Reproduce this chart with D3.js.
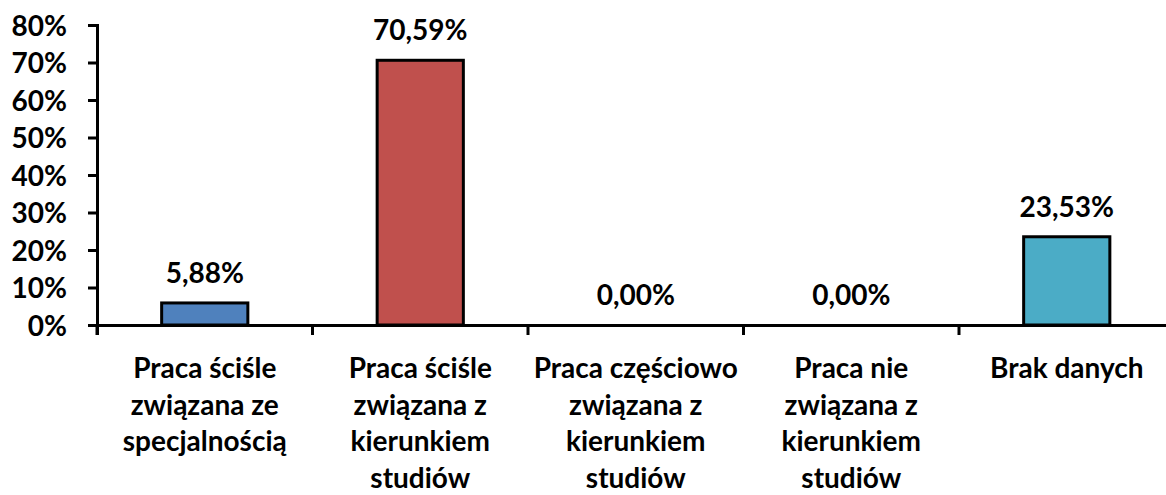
<!DOCTYPE html>
<html>
<head>
<meta charset="utf-8">
<script src="https://cdn.jsdelivr.net/npm/d3@7"></script>
<style>
  body { margin: 0; background: #fff; }
  svg { display: block; }
  .axis text { font-family: Lato, "Open Sans", sans-serif; font-weight: bold; fill: #000; }
</style>
</head>
<body>
<svg id="chart" width="1166" height="495"></svg>
<script>
// chart data
const categories = [
    "Praca ściśle\nzwiązana ze\nspecjalnością",
    "Praca ściśle\nzwiązana z\nkierunkiem\nstudiów",
    "Praca częściowo\nzwiązana z\nkierunkiem\nstudiów",
    "Praca nie\nzwiązana z\nkierunkiem\nstudiów",
    "Brak danych"
];
const values = [5.88, 70.59, 0.00, 0.00, 23.53];
const barColors = ["#4F81BD", "#C0504D", "#9BBB59", "#8064A2", "#4BACC6"];
const yTicks = [0, 10, 20, 30, 40, 50, 60, 70, 80];

const margin = { top: 25, left: 97, bottom: 170 };
const bandW = 215.5;
const baseY = 325;
const fontFam = 'Lato, "Open Sans", sans-serif';
const fontSize = '28px';

const svg = d3.select('#chart');

const x = d3.scaleBand()
    .domain(categories)
    .range([margin.left, margin.left + bandW * categories.length])
    .paddingInner(0)
    .paddingOuter(0);

const y = d3.scaleLinear()
    .domain([0, 80])
    .range([baseY, margin.top]);

const barW = bandW / 2.5;

// bars
svg.append('g')
    .selectAll('rect')
    .data(values)
    .enter()
    .append('rect')
    .attr('x', (d, i) => x(categories[i]) + (bandW - barW) / 2)
    .attr('y', d => y(d))
    .attr('width', barW)
    .attr('height', d => baseY - y(d))
    .attr('fill', (d, i) => barColors[i])
    .attr('stroke', '#000')
    .attr('stroke-width', 3)
    .style('display', d => d > 0 ? null : 'none');

// y axis
const yAxis = svg.append('g')
    .attr('class', 'axis')
    .attr('transform', `translate(${margin.left},0)`)
    .call(d3.axisLeft(y).tickValues(yTicks).tickFormat(d => d + '%').tickSize(9).tickPadding(21));
yAxis.selectAll('text').style('font-size', fontSize).attr('dy', '0.36em');

// x axis
const xAxis = svg.append('g')
    .attr('class', 'axis')
    .attr('transform', `translate(0,${baseY})`)
    .call(d3.axisBottom(x).tickSize(10).tickFormat(''));
// ticks sit at band edges, not centers
xAxis.selectAll('.tick').remove();
const edges = d3.range(categories.length + 1).map(i => margin.left + i * bandW);
xAxis.selectAll('.edge')
    .data(edges)
    .enter()
    .append('line')
    .attr('x1', d => d).attr('x2', d => d)
    .attr('y1', 0).attr('y2', 10)
    .attr('stroke', '#000')
    .attr('stroke-width', 3);

svg.selectAll('.axis path.domain')
    .attr('stroke', '#000')
    .attr('stroke-width', 3);
svg.selectAll('.axis .tick line')
    .attr('stroke', '#000')
    .attr('stroke-width', 3);

// category labels
const catLabels = svg.append('g');
categories.forEach((c, i) => {
    const t = catLabels.append('text')
        .attr('x', x(c) + bandW / 2)
        .attr('y', 378)
        .attr('text-anchor', 'middle')
        .style('font-family', fontFam)
        .style('font-weight', 'bold')
        .style('font-size', fontSize);
    c.split('\n').forEach((line, j) => {
        t.append('tspan')
            .attr('x', x(c) + bandW / 2)
            .attr('dy', j === 0 ? 0 : 36.7)
            .text(line);
    });
});

// value labels
svg.append('g')
    .selectAll('text')
    .data(values)
    .enter()
    .append('text')
    .attr('x', (d, i) => x(categories[i]) + bandW / 2)
    .attr('y', d => y(d) - 20)
    .attr('text-anchor', 'middle')
    .style('font-family', fontFam)
    .style('font-weight', 'bold')
    .style('font-size', fontSize)
    .text(d => d.toFixed(2).replace('.', ',') + '%');
</script>
</body>
</html>
